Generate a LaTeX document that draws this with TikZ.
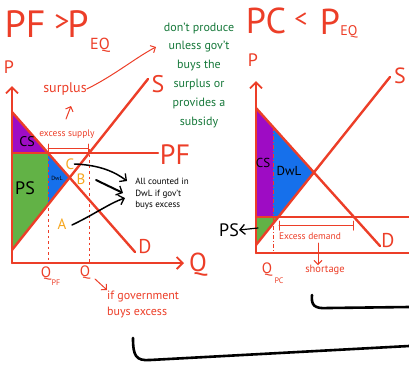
\documentclass[tikz,border=0pt]{standalone}
\usepackage{fontspec}
\setmainfont{PT Sans}
\usetikzlibrary{arrows.meta}
\definecolor{ered}{RGB}{236,62,40}
\definecolor{epurple}{RGB}{158,12,196}
\definecolor{egreen}{RGB}{98,178,70}
\definecolor{eblue}{RGB}{22,112,235}
\definecolor{eorange}{RGB}{246,166,30}
\definecolor{edgreen}{RGB}{22,120,58}
\newcommand\fsz[1]{\fontsize{#1}{#1}\selectfont}
\tikzset{
  curve/.style={draw=ered, line width=2.4pt, line cap=round},
  axisline/.style={draw=ered, line width=2pt, line cap=round, -{Straight Barb[length=6pt,width=12pt,line width=1.8pt]}},
  dotv/.style={draw=ered, line width=1pt, dash pattern=on 2.5pt off 3pt},
  redtxt/.style={text=ered, inner sep=0pt},
  blktxt/.style={text=black, inner sep=0pt},
  orgtxt/.style={text=eorange, inner sep=0pt, font=\fsz{15}},
  thinred/.style={draw=ered, line width=1pt, line cap=round},
  blkarrow/.style={draw=black, line width=1.5pt, line cap=round, -{Straight Barb[length=5pt,width=10pt,line width=1.3pt]}},
  redarrow/.style={draw=ered, line width=1pt, line cap=round, -{Straight Barb[length=4pt,width=8pt]}},
  bottomline/.style={draw=black, line width=2.6pt, line cap=round},
}
\begin{document}
\begin{tikzpicture}[x=1pt,y=-1pt]
\useasboundingbox (0,0) rectangle (409,365);

% ---------- LEFT CHART ----------
\coordinate (LO) at (12,263);
\coordinate (LYT) at (12,86);
\coordinate (LXR) at (184,263);
\coordinate (LD1) at (12,112);
\coordinate (LD2) at (135,252);
\coordinate (LS1) at (12,250);
\coordinate (LS2) at (148,79);
\coordinate (LP1) at (12,153);
\coordinate (LP2) at (158,153);
\coordinate (LE) at (69.6,177.6);
\coordinate (LA) at (48,153);
\coordinate (LB) at (48,204.7);
\coordinate (LQ) at (89,149);
\coordinate (LAb) at (48,263);
\coordinate (LQb) at (89,263);

\fill[epurple] (LD1) -- (LP1) -- (LA) -- cycle;
\fill[egreen] (LP1) -- (LA) -- (LB) -- (LS1) -- cycle;
\fill[eblue] (LA) -- (LE) -- (LB) -- cycle;

\draw[dotv] (LA) -- (LAb);
\draw[dotv] (LQ) -- (LQb);
\draw[curve] (LD1) -- (LD2);
\draw[curve] (LS1) -- (LS2);
\draw[curve] (LP1) -- (LP2);
\draw[axisline] (LO) -- (LYT);
\draw[axisline] (LO) -- (LXR);

% titles
\node[redtxt, font=\fsz{38}] (t1) at (25,24) {PF};
\node[redtxt, font=\fsz{30}] (t2) at (62,23) {>};
\node[redtxt, font=\fsz{38}] (t3) at (78,24) {P};
\node[redtxt, font=\fsz{16}] (t4) at (100,45) {EQ};

\node[redtxt, font=\fsz{18}] (lp) at (9,67) {P};
\node[redtxt, font=\fsz{24}] (ls) at (158,84) {S};
\node[redtxt, font=\fsz{28}] (lpf) at (175,155) {PF};
\node[redtxt, font=\fsz{20}] (ld) at (145,247) {D};
\node[redtxt, font=\fsz{26}] (lq) at (198,265) {Q};

\node[redtxt, font=\fsz{15}] (lqpf) at (46,274) {Q};
\node[redtxt, font=\fsz{8}] (lqpfs) at (56,283) {PF};
\node[redtxt, font=\fsz{15}] (lqq) at (85,273) {Q};

% region labels
\node[blktxt, font=\fsz{14}] (lcs) at (27,142) {CS};
\node[blktxt, font=\fsz{18}] (lps) at (25,188) {PS};
\node[blktxt, font=\fsz{6}] (ldwl) at (57,178) {DwL};
\node[orgtxt] (nC) at (70,164) {C};
\node[orgtxt] (nB) at (81,179) {B};
\node[orgtxt] (nA) at (62,224) {A};

% excess supply & surplus
\node[redtxt, font=\fsz{9.5}] (exs) at (67,134) {excess supply};
\coordinate (brL) at (48,148);
\coordinate (brR) at (88,148);
\draw[thinred] ([yshift=-4pt]brL) -- ([yshift=4pt]brL);
\draw[thinred] ([yshift=-4pt]brR) -- ([yshift=4pt]brR);
\draw[thinred] (brL) -- (brR);
\node[redtxt, font=\fsz{14}] (surp) at (65,89) {surplus};
\coordinate (sa1) at (66,119);
\coordinate (sa2) at (71,106);
\draw[redarrow] (sa1) -- (sa2);
\coordinate (gtip) at (156,47);
\draw[redarrow] (surp.east) .. controls (115,75) and (135,58) .. (gtip);

% green note
\node[text=edgreen, align=center, inner sep=0pt, font=\fontsize{12}{18.8}\selectfont] (gtxt) at (199,75)
  {don't produce\\unless gov't\\buys the\\surplus or\\provides a\\subsidy};

% black note and arrows
\node[blktxt, align=left, font=\fontsize{9}{11.5}\selectfont] (allc) at (162,194)
  {All counted in\\DwL if gov't\\buys excess};
\coordinate (aC) at (127,181);
\coordinate (aB0) at (96,180);
\coordinate (aB) at (123,193);
\coordinate (aA0) at (72,225);
\coordinate (aA) at (125,198);
\draw[blkarrow] (nC.east) .. controls (100,165) and (115,172) .. (aC);
\draw[blkarrow, line width=2pt] (aB0) -- (aB);
\draw[blkarrow] (aA0) .. controls (95,214) and (110,203) .. (aA);

% government note
\coordinate (ga1) at (95,279);
\coordinate (ga2) at (107,290);
\draw[redarrow] (ga1) -- (ga2);
\node[redtxt, align=left, anchor=north west, font=\fontsize{12}{15.5}\selectfont] (gov) at (107,291)
  {if government\\buys excess};

% ---------- RIGHT CHART ----------
\coordinate (RO) at (256,253);
\coordinate (RYT) at (256,81);
\coordinate (RXR) at (409,253);
\coordinate (RD1) at (256,108);
\coordinate (RD2) at (380,246);
\coordinate (RS1) at (256,245);
\coordinate (RS2) at (390,77);
\coordinate (RP1) at (256,217);
\coordinate (RP2) at (409,217);
\coordinate (RE) at (314.3,172.4);
\coordinate (RDa) at (273,126.8);
\coordinate (RPa) at (273,217);
\coordinate (RSa) at (279,217);
\coordinate (Rdb) at (273,253);

\fill[epurple] (RD1) -- (RDa) -- (RPa) -- (RP1) -- cycle;
\fill[eblue] (RDa) -- (RE) -- (RSa) -- (RPa) -- cycle;
\fill[egreen] (RP1) -- (RSa) -- (RS1) -- cycle;

\draw[dotv, dash pattern=on 4pt off 2pt on 1pt off 2pt] (RDa) -- (Rdb);
\draw[curve] (RD1) -- (RD2);
\draw[curve] (RS1) -- (RS2);
\draw[curve] (RP1) -- (RP2);
\draw[axisline] (RO) -- (RYT);
\draw[curve, line width=2pt] (RO) -- (RXR);

\node[redtxt, font=\fsz{36}] (r1) at (266,21) {PC};
\node[redtxt, font=\fsz{26}] (r2) at (301,20) {<};
\node[redtxt, font=\fsz{36}] (r3) at (330,22) {P};
\node[redtxt, font=\fsz{14}] (r4) at (349,32) {EQ};

\node[redtxt, font=\fsz{18}] (rp) at (253,60) {P};
\node[redtxt, font=\fsz{22}] (rs) at (400,76) {S};
\node[redtxt, font=\fsz{20}] (rd) at (388,241) {D};

\node[blktxt, font=\fsz{13}] (rcs) at (263,163) {CS};
\node[blktxt, font=\fsz{13}] (rdwl) at (289,171) {DwL};
\node[blktxt, font=\fsz{18}] (rps) at (229,230) {PS};
\coordinate (rpsa) at (258,228);
\draw[blkarrow, line width=1.2pt] (rpsa) -- (rps.east);

\coordinate (ebL) at (279,225);
\coordinate (ebR) at (353,225);
\draw[thinred] ([yshift=-5pt]ebL) -- ([yshift=4pt]ebL);
\draw[thinred] ([yshift=-5pt]ebR) -- ([yshift=4pt]ebR);
\draw[thinred] (ebL) -- (ebR);
\node[redtxt, font=\fsz{9.5}] (exd) at (310,236) {Excess demand};
\node[redtxt, font=\fsz{10.5}] (short) at (325,270) {shortage};
\coordinate (sh1) at (318,243);
\draw[redarrow] (sh1) -- (short.north -| sh1);

\node[redtxt, font=\fsz{15}] (rq) at (267,270) {Q};
\node[redtxt, font=\fsz{8}] (rqs) at (279,281) {PC};

% ---------- BOTTOM STROKES ----------
\coordinate (b1a) at (133,338);
\coordinate (b1b) at (409,346);
\draw[bottomline] (b1a) .. controls (133,356) and (136,361) .. (150,360) -- (b1b);
\coordinate (b2a) at (312,295);
\coordinate (b2b) at (409,307);
\draw[bottomline] (b2a) .. controls (311,305) and (314,309) .. (328,308) -- (b2b);
\end{tikzpicture}
\end{document}
